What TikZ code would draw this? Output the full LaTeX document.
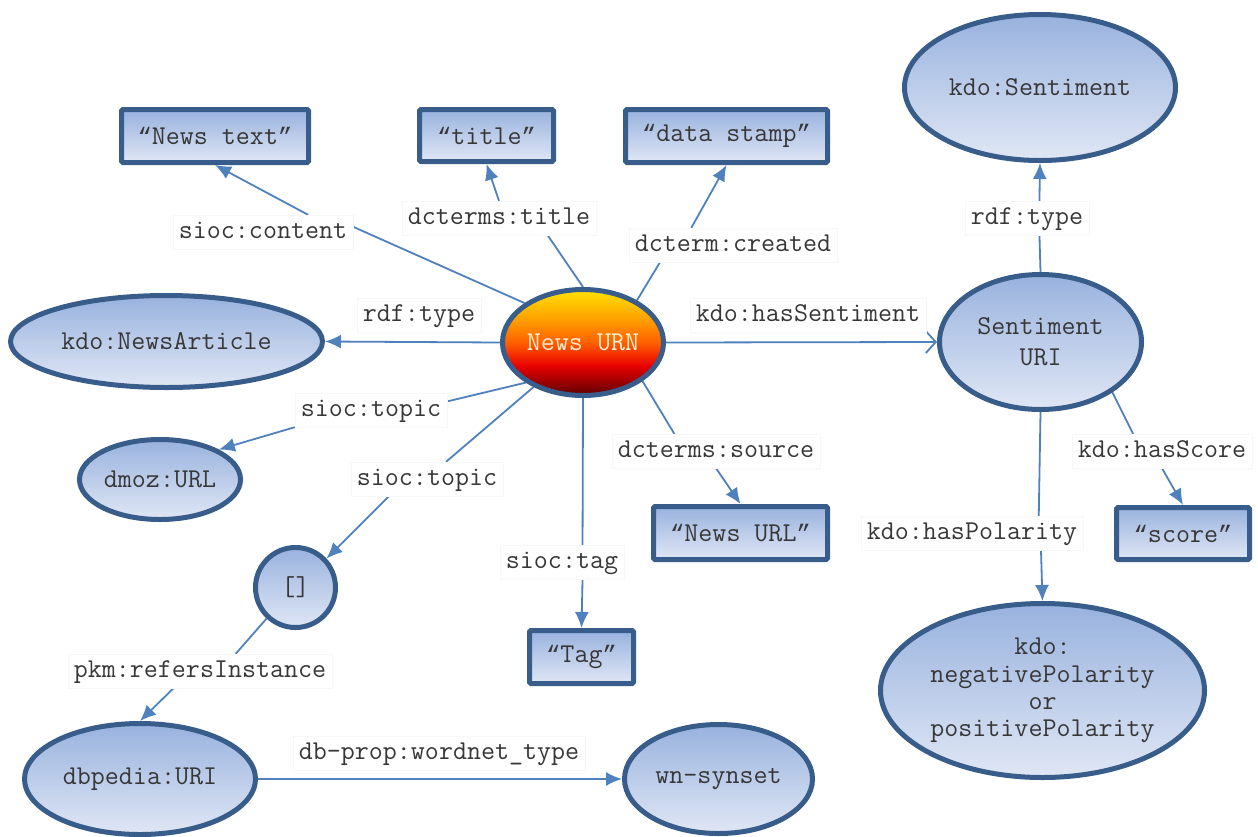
\documentclass[tikz,border=0pt]{standalone}
\usepackage{fontspec}
\usetikzlibrary{arrows.meta,calc,shapes.geometric}

% curly quotes from a Courier-width font, sized to the typewriter advance
\newfontfamily\quotefont{Liberation Mono}
\newcommand\qopen{{\quotefont\fontsize{23.8}{31}\selectfont “}}
\newcommand\qclose{{\quotefont\fontsize{23.8}{31}\selectfont ”}}

\definecolor{edgeblue}{RGB}{79,129,189}
\definecolor{rimblue}{RGB}{56,93,138}
\definecolor{filltop}{RGB}{152,178,222}
\definecolor{fillbot}{RGB}{224,231,245}
\definecolor{txtgray}{RGB}{55,55,55}
\definecolor{urnA}{RGB}{255,226,0}
\definecolor{urnB}{RGB}{255,160,0}
\definecolor{urnC}{RGB}{255,96,0}
\definecolor{urnD}{RGB}{232,0,0}
\definecolor{urnE}{RGB}{90,0,0}
\definecolor{urntext}{RGB}{255,238,205}

\pgfdeclareverticalshading{urnshade}{100bp}{color(0bp)=(urnE); color(25bp)=(urnE); color(39bp)=(urnD); color(50bp)=(urnC); color(61bp)=(urnB); color(75bp)=(urnA); color(100bp)=(urnA)}

\pgfdeclarelayer{background}
\pgfsetlayers{background,main}

\tikzset{
  every node/.style={font=\ttfamily\fontsize{27.2}{31}\selectfont, text=txtgray},
  blob/.style={ellipse, draw=rimblue, line width=5pt, top color=filltop, bottom color=fillbot, inner sep=0pt, align=center},
  lit/.style={rectangle, draw=rimblue, line width=5pt, top color=filltop, bottom color=fillbot, inner sep=0pt, rounded corners=1.5pt},
  lbl/.style={fill=white, draw=black!3, inner sep=6pt, text height=17pt, text depth=5pt},
  link/.style={draw=edgeblue, line width=1.8pt},
  arr/.style={link, -{Latex[length=16pt,width=14pt]}},
  openarr/.style={link, -{Straight Barb[length=10pt,width=22pt]}},
}

\begin{document}
\begin{tikzpicture}[x=1pt,y=-1pt]
\useasboundingbox (0,0) rectangle (1258,836);

% central resource
\node[ellipse, draw=rimblue, line width=5pt, shading=urnshade, inner sep=0pt,
      minimum width=161pt, minimum height=106pt, text=urntext] (urn) at (583,342.5) {News URN};

% class and resource nodes
\node[blob, minimum width=312pt, minimum height=92pt] (na) at (166.5,341.5) {kdo:NewsArticle};
\node[blob, minimum width=161pt, minimum height=80pt] (dm) at (160,479.5) {dmoz:URL};
\node[blob, circle, minimum size=80pt] (bn) at (295.5,587.5) {[]};
\node[blob, minimum width=231pt, minimum height=111pt] (db) at (140,779) {dbpedia:URI};
\node[blob, minimum width=188pt, minimum height=109pt] (wn) at (718.5,779) {wn-synset};
\node[blob, minimum width=271pt, minimum height=146pt] (ks) at (1040,87.5) {kdo:Sentiment};
\node[blob, minimum width=202pt, minimum height=135pt] (su) at (1040.5,342) {Sentiment\\URI};
\node[blob, minimum width=324pt, minimum height=174pt, font=\ttfamily\fontsize{27.2}{27.3}\selectfont] (pol) at (1042.5,690.5)
  {kdo:\\negativePolarity\\or\\positivePolarity};

% literal nodes
\node[lit, minimum width=187pt, minimum height=53pt] (nt) at (215,136) {\qopen News text\qclose};
\node[lit, minimum width=134pt, minimum height=52pt] (tt) at (486.5,135.5) {\qopen title\qclose};
\node[lit, minimum width=202pt, minimum height=53pt] (ds) at (726.5,136) {\qopen data stamp\qclose};
\node[lit, minimum width=174pt, minimum height=53pt] (nu) at (740.5,533) {\qopen News URL\qclose};
\node[lit, minimum width=104pt, minimum height=53pt] (tg) at (581.5,657) {\qopen Tag\qclose};
\node[lit, minimum width=133pt, minimum height=52pt] (sc) at (1183,533.5) {\qopen score\qclose};

% property labels
\node[lbl] (lc)   at (263,232) {sioc:content};
\node[lbl] (lt)   at (499,218) {dcterms:title};
\node[lbl] (lcr)  at (733,245) {dcterm:created};
\node[lbl] (lrdf) at (419,315) {rdf:type};
\node[lbl] (lhs)  at (808,315) {kdo:hasSentiment};
\node[lbl] (st1)  at (371,410) {sioc:topic};
\node[lbl] (st2)  at (427,479) {sioc:topic};
\node[lbl] (lsrc) at (716,451) {dcterms:source};
\node[lbl] (ltag) at (562,562) {sioc:tag};
\node[lbl] (lpkm) at (200,671) {pkm:refersInstance};
\node[lbl] (lwn)  at (439,753) {db-prop:wordnet\_type};
\node[lbl] (lrt)  at (1027,218) {rdf:type};
\node[lbl] (lsc)  at (1162,451) {kdo:hasScore};
\node[lbl] (lpol) at (972,533) {kdo:hasPolarity};

\begin{pgfonlayer}{background}
% News URN properties
\draw[link] (urn.146) -- ($(lc.east)!.3!(lc.north east)$);
\draw[arr]  ($(lc.north)!.5!(lc.north east)$) -- (nt.south);
\draw[link] (urn.north) -- ($(lt.south)!.5!(lt.south east)$);
\draw[arr]  (lt.north) -- (tt.south);
\draw[link] (urn.38) -- ($(lcr.south west)!.15!(lcr.south east)$);
\draw[arr]  ($(lcr.north west)!.3!(lcr.north east)$) -- (ds.south);
\draw[arr]  (urn.west) -- (na.east);
\draw[openarr] (urn.east) -- (su.west);
\draw[link] (urn.215) -- ($(st1.east)!.5!(st1.north east)$);
\draw[arr]  (st1.south west) -- (dm.27);
\draw[link] (urn.222) -- ($(st2.north)!.25!(st2.north east)$);
\draw[arr]  ($(st2.south west)!.25!(st2.south east)$) -- (bn.43);
\draw[link] (urn.-33) -- ($(lsrc.north west)!.3!(lsrc.north east)$);
\draw[arr]  (lsrc.south) -- (nu.north);
\draw[link] (urn.south) -- ($(ltag.north)!.33!(ltag.north east)$);
\draw[arr]  ($(ltag.south)!.33!(ltag.south east)$) -- (tg.north);
% blank node and linked data
\draw[link] (bn.227) -- ($(lpkm.north)!.27!(lpkm.north east)$);
\draw[arr]  ($(lpkm.south west)!.4!(lpkm.south east)$) -- (db.north);
\draw[arr]  (db.east) -- (wn.west);
% sentiment properties
\draw[link] (su.north) -- ($(lrt.south)!.2!(lrt.south east)$);
\draw[arr]  ($(lrt.north)!.2!(lrt.north east)$) -- (ks.south);
\draw[link] (su.-35) -- ($(lsc.north west)!.34!(lsc.north east)$);
\draw[arr]  (lsc.south) -- (sc.north);
\draw[link] (su.south) -- ($(lpol.north)!.6!(lpol.north east)$);
\draw[arr]  ($(lpol.south)!.62!(lpol.south east)$) -- (pol.north);
\end{pgfonlayer}
\end{tikzpicture}
\end{document}
